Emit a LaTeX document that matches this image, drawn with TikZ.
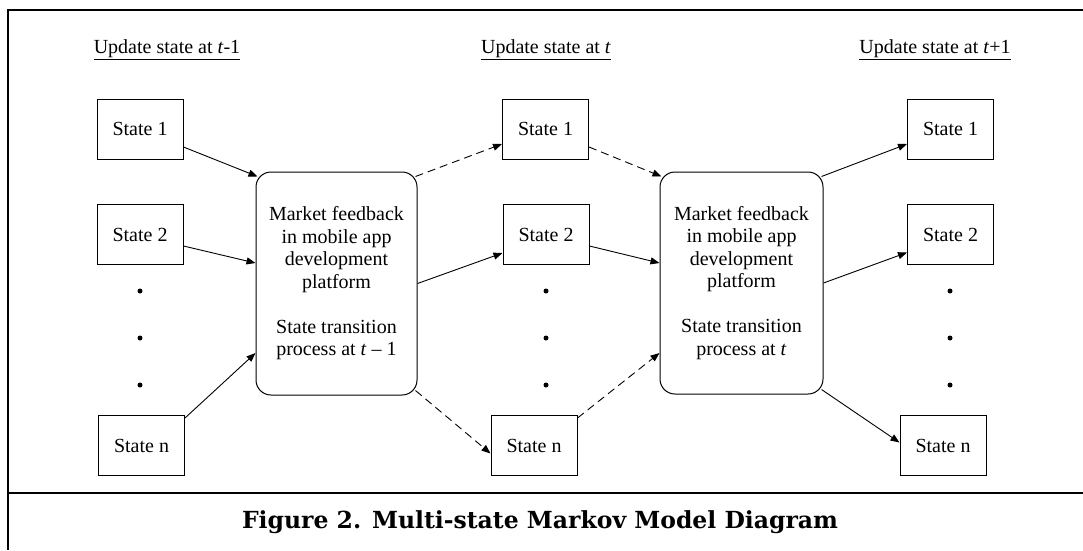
\documentclass[tikz,border=0pt]{standalone}
\usepackage{fontspec}
\setmainfont{Liberation Serif}
\newfontfamily\capfont{DejaVu Serif}
\usetikzlibrary{arrows.meta}
\newcommand{\lbl}{\fontsize{20}{22.5}\selectfont}

\begin{document}
\begin{tikzpicture}[x=1pt,y=-1pt,
  state/.style={draw,line width=1pt,minimum width=86pt,minimum height=60pt,
    inner sep=0pt,font=\lbl},
  feedback/.style={draw,line width=1pt,rounded corners=15pt,align=center,
    minimum width=161pt,minimum height=223pt,inner sep=0pt,font=\lbl},
  vdot/.style={circle,fill,inner sep=0pt,minimum size=5pt},
  hdr/.style={font=\lbl},
  flow/.style={-{Triangle[length=9pt,width=7pt]},line width=0.9pt},
  dflow/.style={flow,dash pattern=on 8pt off 5pt}]
\useasboundingbox (0,0) rectangle (1083,550);
% frame of the figure
\draw[line width=2.5pt] (1083,10) -- (8,10) -- (8,550);
\draw[line width=2.5pt] (8,493) -- (1083,493);
\node[font=\capfont\bfseries\fontsize{23.5}{28}\selectfont] (cap) at (540,522)
  {Figure 2. Multi-state Markov Model Diagram};
% headings
\node[hdr] (ha) at (167,50) {\underline{Update state at \textit{t}-1}};
\node[hdr] (hb) at (546,50) {\underline{Update state at \textit{t}}};
\node[hdr] (hc) at (935,50) {\underline{Update state at \textit{t}+1}};
% states at t-1
\node[state] (s1a) at (140,129) {State 1};
\node[state] (s2a) at (140,234.5) {State 2};
\node[vdot] (da1) at (140,291) {};
\node[vdot] (da2) at (140,338) {};
\node[vdot] (da3) at (140,385) {};
\node[state] (sna) at (141.5,445.5) {State n};
% states at t
\node[state] (s1b) at (545.5,129) {State 1};
\node[state] (s2b) at (546,234.5) {State 2};
\node[vdot] (db1) at (546,291) {};
\node[vdot] (db2) at (546,338) {};
\node[vdot] (db3) at (546,385) {};
\node[state] (snb) at (534,445.5) {State n};
% states at t+1
\node[state] (s1c) at (950.5,129) {State 1};
\node[state] (s2c) at (950.5,234.5) {State 2};
\node[vdot] (dc1) at (950,291) {};
\node[vdot] (dc2) at (950,338) {};
\node[vdot] (dc3) at (950,385) {};
\node[state] (snc) at (943,445.5) {State n};
% transition blocks
\node[feedback] (fb1) at (336.5,283.5)
  {Market feedback\\in mobile app\\development\\platform\\[22.5pt]
   State transition\\process at \textit{t} -- 1};
\node[feedback,minimum width=163pt,minimum height=222pt] (fb2) at (741.5,283)
  {Market feedback\\in mobile app\\development\\platform\\[22.5pt]
   State transition\\process at \textit{t}};
% into the first block
\draw[flow] ([yshift=-18pt]s1a.east) -- ([xshift=2pt,yshift=-5pt]fb1.north west);
\draw[flow] ([yshift=-11.5pt]s2a.east) -- ([yshift=20.5pt]fb1.west);
\draw[flow] ([yshift=-3pt]sna.north east) -- ([yshift=-69.5pt]fb1.west);
% out of the first block
\draw[dflow] ([xshift=-2pt,yshift=-5pt]fb1.north east) -- ([yshift=-15pt]s1b.west);
\draw[flow] (fb1.east) -- ([yshift=-18.5pt]s2b.west);
\draw[dflow] ([xshift=-2pt,yshift=5pt]fb1.south east) -- ([yshift=-8pt]snb.west);
% into the second block
\draw[dflow] ([yshift=-18pt]s1b.east) -- ([xshift=2pt,yshift=-5pt]fb2.north west);
\draw[flow] ([yshift=-11.5pt]s2b.east) -- ([yshift=20pt]fb2.west);
\draw[dflow] ([yshift=-3pt]snb.north east) -- ([yshift=-70pt]fb2.west);
% out of the second block
\draw[flow] ([xshift=-2pt,yshift=-5pt]fb2.north east) -- ([yshift=-15pt]s1c.west);
\draw[flow] (fb2.east) -- ([yshift=-18pt]s2c.west);
\draw[flow] ([xshift=-2pt,yshift=5pt]fb2.south east) -- ([yshift=3pt]snc.west);
\end{tikzpicture}
\end{document}
